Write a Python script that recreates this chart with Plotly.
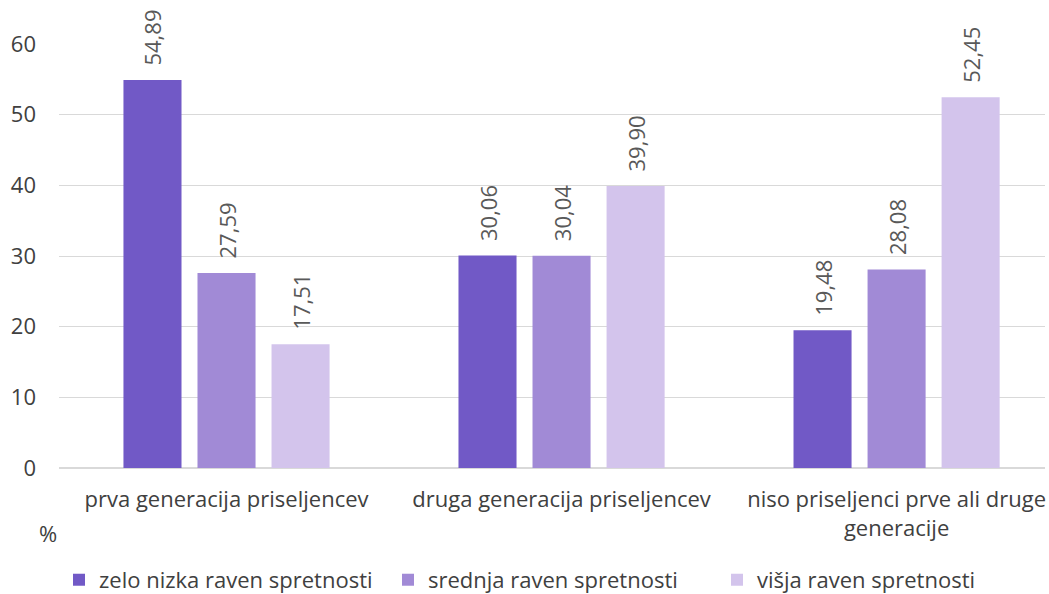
import plotly.graph_objects as go

categories = ["prva generacija priseljencev", "druga generacija priseljencev",
              "niso priseljenci prve ali druge<br>generacije"]
series_names = ["zelo nizka raven spretnosti", "srednja raven spretnosti", "višja raven spretnosti"]
zelo_nizka = [54.89, 30.06, 19.48]
srednja = [27.59, 30.04, 28.08]
visja = [17.51, 39.90, 52.45]
colors = ["#7159c6", "#a18ad6", "#d3c4ec"]

font = "Open Sans"
# transparent padding so the rotated labels sit a little above the bars
pad = "<span style='color:rgba(0,0,0,0)'>..</span>"
fig = go.Figure()
for name, vals, col in zip(series_names, [zelo_nizka, srednja, visja], colors):
    fig.add_trace(go.Bar(
        x=categories, y=vals, name=name, marker_color=col, marker_line_width=0,
        text=[pad + f"{v:.2f}".replace(".", ",") for v in vals],
        textposition="outside", textangle=-90, cliponaxis=False, constraintext="none",
        textfont=dict(size=22, color="#595959", family=font),
    ))

fig.update_layout(
    width=1049, height=594,
    margin=dict(l=59, r=4, t=44, b=126, autoexpand=False),
    paper_bgcolor="white", plot_bgcolor="white",
    barmode="group", bargap=0.337, bargroupgap=0.216,
    font=dict(family=font, size=22, color="#595959"),
    showlegend=True,
    legend=dict(orientation="h", x=0.0, y=-0.264, xanchor="left", yanchor="middle",
                entrywidth=284, entrywidthmode="pixels",
                font=dict(size=22, color="#404040")),
)
fig.update_xaxes(range=[-0.5, 2.443], showline=False, ticks="", automargin=False,
                 ticklabelstandoff=16, tickfont=dict(size=22, color="#404040"))
fig.update_yaxes(range=[0, 60], dtick=10, showgrid=True, gridcolor="#d9d9d9",
                 zeroline=True, zerolinecolor="#d9d9d9", showline=False, automargin=False,
                 ticklabelstandoff=22, tickfont=dict(size=22, color="#404040"))
fig.add_annotation(text="%", xref="paper", yref="paper", x=-0.022, y=-0.193,
                   showarrow=False, font=dict(size=22, color="#404040"))

fig.write_html("out.html", config={"displayModeBar": False},
               post_script="document.body.style.margin='0';")
